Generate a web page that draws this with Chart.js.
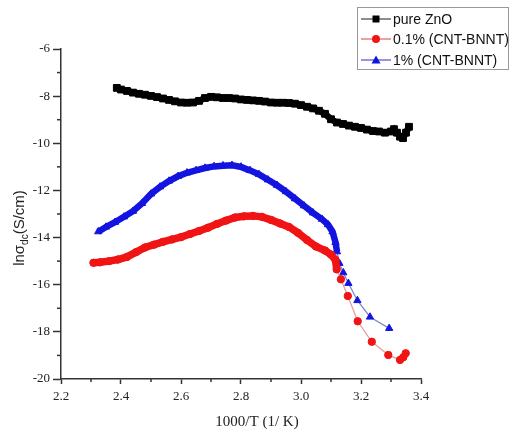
<!DOCTYPE html>
<html>
<head>
<meta charset="utf-8">
<script src="https://cdn.jsdelivr.net/npm/chart.js@4.4.0/dist/chart.umd.min.js"></script>
<style>
  html, body { margin: 0; background: #fff; }
</style>
</head>
<body>
<canvas id="c" width="510" height="432"></canvas>
<script>
// series names, as in the legend
const seriesNames = ["pure ZnO", "0.1% (CNT-BNNT)", "1% (CNT-BNNT)"];

// tick labels
const xTickLabels = [2.2, 2.4, 2.6, 2.8, 3.0, 3.2, 3.4];
const yTickLabels = [-6, -8, -10, -12, -14, -16, -18, -20];

// pure ZnO (1000/T, ln sigma)
const znoX = [2.386, 2.40, 2.42, 2.44, 2.46, 2.48, 2.50, 2.52, 2.54, 2.56, 2.58, 2.60, 2.62, 2.64, 2.66, 2.68,
  2.70, 2.72, 2.74, 2.76, 2.78, 2.80, 2.82, 2.84, 2.86, 2.88, 2.90, 2.92, 2.94, 2.96, 2.98, 3.00, 3.02, 3.04,
  3.06, 3.08, 3.10, 3.12, 3.14, 3.16, 3.18, 3.20, 3.22, 3.24, 3.26, 3.28, 3.30, 3.31, 3.32, 3.33, 3.34, 3.35, 3.36];
const znoY = [-7.65, -7.72, -7.78, -7.85, -7.90, -7.94, -7.99, -8.04, -8.10, -8.16, -8.22, -8.27, -8.28, -8.27, -8.20, -8.08,
  -8.03, -8.05, -8.08, -8.08, -8.10, -8.14, -8.16, -8.18, -8.20, -8.23, -8.27, -8.28, -8.28, -8.29, -8.32, -8.38, -8.45, -8.52,
  -8.62, -8.75, -8.98, -9.12, -9.18, -9.25, -9.30, -9.35, -9.42, -9.48, -9.50, -9.55, -9.50, -9.40, -9.55, -9.72, -9.78, -9.55, -9.30];

// 0.1% (CNT-BNNT)
const cnt01X = [2.308, 2.33, 2.36, 2.39, 2.42, 2.45, 2.48, 2.51, 2.54, 2.57, 2.60, 2.63, 2.66, 2.69, 2.72, 2.75,
  2.78, 2.81, 2.84, 2.87, 2.90, 2.93, 2.96, 2.99, 3.02, 3.05, 3.08, 3.10, 3.115,
  3.119, 3.133, 3.156, 3.189, 3.236, 3.291, 3.33, 3.341, 3.349];
const cnt01Y = [-15.07, -15.05, -15.00, -14.93, -14.82, -14.62, -14.42, -14.30, -14.18, -14.08, -13.98, -13.85, -13.72, -13.58, -13.42, -13.28,
  -13.15, -13.10, -13.08, -13.12, -13.25, -13.40, -13.55, -13.80, -14.10, -14.38, -14.55, -14.72, -14.95,
  -15.35, -15.77, -16.48, -17.55, -18.42, -18.98, -19.19, -19.08, -18.91];

// 1% (CNT-BNNT)
const cnt1X = [2.324, 2.35, 2.38, 2.41, 2.44, 2.47, 2.50, 2.53, 2.56, 2.59, 2.62, 2.65, 2.68, 2.71, 2.74, 2.77,
  2.80, 2.83, 2.86, 2.89, 2.92, 2.95, 2.98, 3.01, 3.04, 3.07, 3.09, 3.105, 3.115, 3.12,
  3.128, 3.141, 3.158, 3.188, 3.23, 3.294];
const cnt1Y = [-13.75, -13.55, -13.35, -13.12, -12.88, -12.55, -12.15, -11.85, -11.60, -11.40, -11.25, -11.15, -11.05, -10.98, -10.95, -10.93,
  -11.00, -11.15, -11.32, -11.55, -11.78, -12.05, -12.35, -12.65, -12.95, -13.22, -13.45, -13.75, -14.20, -14.60,
  -15.09, -15.49, -15.94, -16.67, -17.37, -17.85];

const toPts = (xs, ys) => xs.map((x, i) => ({ x: x, y: ys[i] }));

const RED = "#f01414";
const BLUE = "#1414e0";
const denseEnd = 3.116;

// minor ticks, axis titles and the boxed legend
const decor = {
  id: "decor",
  afterDraw(chart) {
    const ctx = chart.ctx;
    const xs = chart.scales.x, ys = chart.scales.y;
    const ca = chart.chartArea;
    ctx.save();
    ctx.strokeStyle = "#333";
    ctx.lineWidth = 1.5;
    for (let v = -7; v >= -19; v -= 2) {
      const py = ys.getPixelForValue(v);
      ctx.beginPath(); ctx.moveTo(ca.left - 4, py); ctx.lineTo(ca.left, py); ctx.stroke();
    }
    for (let i = 0; i < xTickLabels.length - 1; i++) {
      const px = xs.getPixelForValue((xTickLabels[i] + xTickLabels[i + 1]) / 2);
      ctx.beginPath(); ctx.moveTo(px, ca.bottom); ctx.lineTo(px, ca.bottom + 3); ctx.stroke();
    }

    // x title
    ctx.fillStyle = "#222";
    ctx.font = "15px 'Liberation Serif'";
    ctx.textAlign = "center";
    ctx.textBaseline = "middle";
    ctx.fillText("1000/T (1/ K)", 257, 422);

    // y title with subscript
    ctx.save();
    ctx.translate(19, 228);
    ctx.rotate(-Math.PI / 2);
    ctx.textAlign = "left";
    ctx.textBaseline = "alphabetic";
    const big = "15px 'Liberation Sans'", small = "10px 'Liberation Sans'";
    ctx.font = big; const w1 = ctx.measureText("lnσ").width; const w3 = ctx.measureText("(S/cm)").width;
    ctx.font = small; const w2 = ctx.measureText("dc").width;
    let x0 = -(w1 + w2 + w3) / 2;
    ctx.font = big; ctx.fillText("lnσ", x0, 5);
    ctx.font = small; ctx.fillText("dc", x0 + w1, 9);
    ctx.font = big; ctx.fillText("(S/cm)", x0 + w1 + w2, 5);
    ctx.restore();

    // legend
    ctx.fillStyle = "#fff";
    ctx.fillRect(357, 7, 152, 62);
    ctx.strokeStyle = "#999";
    ctx.lineWidth = 1;
    ctx.strokeRect(357.5, 7.5, 151, 62);
    const rows = [19, 39, 60];
    const lineCols = ["#444", "#e06060", "#5050c0"];
    const fills = ["#000", RED, BLUE];
    ctx.font = "14px 'Liberation Sans'";
    ctx.textBaseline = "middle";
    ctx.textAlign = "left";
    seriesNames.forEach((name, i) => {
      const ry = rows[i];
      ctx.strokeStyle = lineCols[i];
      ctx.lineWidth = 1.2;
      ctx.beginPath(); ctx.moveTo(361, ry); ctx.lineTo(391, ry); ctx.stroke();
      ctx.fillStyle = fills[i];
      ctx.beginPath();
      if (i === 0) ctx.rect(372.5, ry - 3.5, 7, 7);
      else if (i === 1) ctx.arc(376, ry, 4, 0, Math.PI * 2);
      else { ctx.moveTo(376, ry - 4.5); ctx.lineTo(380.5, ry + 3.5); ctx.lineTo(371.5, ry + 3.5); ctx.closePath(); }
      ctx.fill();
      ctx.fillStyle = "#111";
      ctx.fillText(name, 393, ry + 1);
    });
    ctx.restore();
  }
};

const tickFont = { family: "'Liberation Serif'", size: 13 };

new Chart(document.getElementById("c"), {
  type: "scatter",
  data: {
    datasets: [
      {
        label: seriesNames[0],
        data: toPts(znoX, znoY),
        showLine: true,
        borderColor: "#000",
        borderWidth: 6.5,
        pointStyle: "rect",
        pointRadius: 4.8,
        pointBackgroundColor: "#000",
        pointBorderColor: "#000",
        pointBorderWidth: 1
      },
      {
        label: seriesNames[1],
        data: toPts(cnt01X, cnt01Y),
        showLine: true,
        borderColor: "#e0a0a0",
        borderWidth: 1.3,
        segment: {
          borderColor: c => c.p0.parsed.x < denseEnd ? RED : undefined,
          borderWidth: c => c.p0.parsed.x < denseEnd ? 7.5 : undefined
        },
        pointStyle: "circle",
        pointRadius: 3.7,
        pointBackgroundColor: RED,
        pointBorderColor: RED,
        pointBorderWidth: 1
      },
      {
        label: seriesNames[2],
        data: toPts(cnt1X, cnt1Y),
        showLine: true,
        borderColor: "#8088d0",
        borderWidth: 1.3,
        segment: {
          borderColor: c => c.p0.parsed.x < denseEnd ? BLUE : undefined,
          borderWidth: c => c.p0.parsed.x < denseEnd ? 6.5 : undefined
        },
        pointStyle: "triangle",
        pointRadius: 4.2,
        pointBackgroundColor: BLUE,
        pointBorderColor: BLUE,
        pointBorderWidth: 1
      }
    ]
  },
  options: {
    responsive: false,
    animation: false,
    devicePixelRatio: 1,
    layout: { padding: { top: 49, right: 89, left: 0, bottom: 0 } },
    plugins: { legend: { display: false }, tooltip: { enabled: false } },
    scales: {
      x: {
        type: "linear",
        min: 2.2, max: 3.4,
        afterBuildTicks: s => { s.ticks = xTickLabels.map(v => ({ value: v })); },
        afterFit: s => { s.height = 53; },
        ticks: { callback: v => v.toFixed(1), font: tickFont, color: "#222", padding: 5, maxRotation: 0, autoSkip: false },
        grid: { drawOnChartArea: false, tickLength: 5, tickColor: "#333", tickWidth: 1.5 },
        border: { color: "#333", width: 1.5 }
      },
      y: {
        type: "linear",
        min: -20, max: -6,
        afterBuildTicks: s => { s.ticks = yTickLabels.map(v => ({ value: v })); },
        afterFit: s => { s.width = 61; },
        ticks: { callback: v => String(v), font: tickFont, color: "#222", padding: 3, autoSkip: false },
        grid: { drawOnChartArea: false, tickLength: 8, tickColor: "#333", tickWidth: 1.5 },
        border: { color: "#333", width: 1.5 }
      }
    }
  },
  plugins: [decor]
});
</script>
</body>
</html>
